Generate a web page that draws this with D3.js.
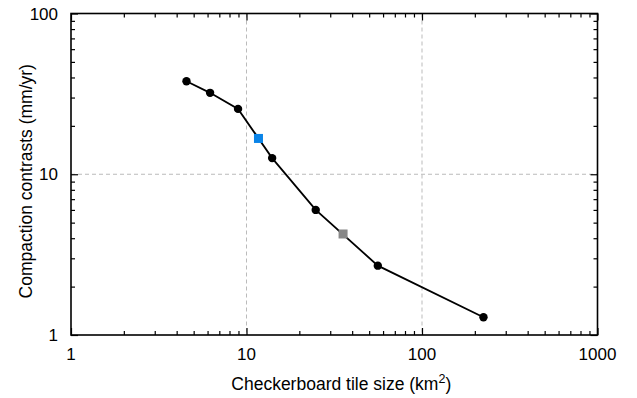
<!DOCTYPE html>
<html>
<head>
<meta charset="utf-8">
<script src="https://cdn.jsdelivr.net/npm/d3@7"></script>
<style>
  html, body { margin: 0; padding: 0; background: #fff; }
  svg { display: block; font-family: "Liberation Sans", Arial, Helvetica, sans-serif; }
</style>
</head>
<body>
<svg id="chart" width="637" height="398"></svg>
<script>
// tile size (km^2) vs compaction contrast (mm/yr)
const tileSize = [4.55, 6.2, 8.95, 14.0, 24.8, 56.0, 224];
const contrast = [37.9, 32.1, 25.5, 12.6, 6.0, 2.7, 1.29];

// highlighted cases drawn as squares on the curve
const highlightSize = [11.7, 35.5];
const highlightContrast = [16.7, 4.25];
const highlightColor = ["#0a84e8", "#888888"];

const xTicks = [1, 10, 100, 1000];
const yTicks = [1, 10, 100];

const svg = d3.select("#chart");
const margin = { top: 13.5, right: 39.5, bottom: 63, left: 71 };
const width = 637 - margin.left - margin.right;
const height = 398 - margin.top - margin.bottom;

const g = svg.append("g").attr("transform", `translate(${margin.left},${margin.top})`);

const x = d3.scaleLog().domain([1, 1000]).range([0, width]);
const y = d3.scaleLog().domain([1, 100]).range([height, 0]);

// minor tick positions for every decade
function minorTicks(lo, hi) {
  const out = [];
  for (let d = lo; d < hi; d *= 10) {
    for (let k = 2; k <= 9; k++) out.push(d * k);
  }
  return out;
}

// dashed grid at the interior decades
g.selectAll("line.gx")
  .data(xTicks.slice(1, -1))
  .join("line")
  .attr("x1", (d) => x(d)).attr("x2", (d) => x(d))
  .attr("y1", 0).attr("y2", height)
  .attr("stroke", "#bbb").attr("stroke-width", 1).attr("stroke-dasharray", "4,3");

g.selectAll("line.gy")
  .data(yTicks.slice(1, -1))
  .join("line")
  .attr("y1", (d) => y(d)).attr("y2", (d) => y(d))
  .attr("x1", 0).attr("x2", width)
  .attr("stroke", "#bbb").attr("stroke-width", 1).attr("stroke-dasharray", "4,3");

// inward ticks on all four sides
function addAxis(axis, transform, ticks, size) {
  const a = g.append("g").attr("transform", transform)
    .call(axis.tickValues(ticks).tickSize(size).tickFormat(""));
  a.select(".domain").remove();
  a.selectAll("line").attr("stroke", "#000").attr("stroke-width", 1.2);
}
const xMin = minorTicks(1, 1000);
const yMin = minorTicks(1, 100);
addAxis(d3.axisTop(x), `translate(0,${height})`, xTicks, 7);
addAxis(d3.axisTop(x), `translate(0,${height})`, xMin, 4);
addAxis(d3.axisBottom(x), "translate(0,0)", xTicks, 7);
addAxis(d3.axisBottom(x), "translate(0,0)", xMin, 4);
addAxis(d3.axisRight(y), "translate(0,0)", yTicks, 7);
addAxis(d3.axisRight(y), "translate(0,0)", yMin, 4);
addAxis(d3.axisLeft(y), `translate(${width},0)`, yTicks, 7);
addAxis(d3.axisLeft(y), `translate(${width},0)`, yMin, 4);

g.append("rect")
  .attr("width", width).attr("height", height)
  .attr("fill", "none").attr("stroke", "#000").attr("stroke-width", 1.6);

// tick labels
g.selectAll("text.xl")
  .data(xTicks)
  .join("text")
  .attr("x", (d) => x(d)).attr("y", height + 25)
  .attr("text-anchor", "middle").attr("font-size", 17)
  .text((d) => d);

g.selectAll("text.yl")
  .data(yTicks)
  .join("text")
  .attr("x", -13).attr("y", (d) => y(d) + 6)
  .attr("text-anchor", "end").attr("font-size", 17)
  .text((d) => d);

// axis titles
const xt = g.append("text")
  .attr("x", width / 2 + 7).attr("y", height + 55)
  .attr("text-anchor", "middle").attr("font-size", 17.5);
xt.append("tspan").text("Checkerboard tile size (km");
xt.append("tspan").attr("dy", -7).attr("font-size", 12.5).text("2");
xt.append("tspan").attr("dy", 7).text(")");

g.append("text")
  .attr("transform", `translate(-39,${height / 2 + 7}) rotate(-90)`)
  .attr("text-anchor", "middle").attr("font-size", 17.5)
  .text("Compaction contrasts (mm/yr)");

// curve and markers
const points = tileSize.map((s, i) => ({ s, c: contrast[i] }));
const extras = highlightSize.map((s, i) => ({ s, c: highlightContrast[i], color: highlightColor[i] }));

g.append("path")
  .datum(points)
  .attr("fill", "none").attr("stroke", "#000").attr("stroke-width", 1.8)
  .attr("d", d3.line().x((d) => x(d.s)).y((d) => y(d.c)));

g.selectAll("circle.pt")
  .data(points)
  .join("circle")
  .attr("cx", (d) => x(d.s)).attr("cy", (d) => y(d.c))
  .attr("r", 4.2).attr("fill", "#000");

g.selectAll("rect.hl")
  .data(extras)
  .join("rect")
  .attr("x", (d) => x(d.s) - 4.5).attr("y", (d) => y(d.c) - 4.5)
  .attr("width", 9).attr("height", 9)
  .attr("fill", (d) => d.color);
</script>
</body>
</html>
